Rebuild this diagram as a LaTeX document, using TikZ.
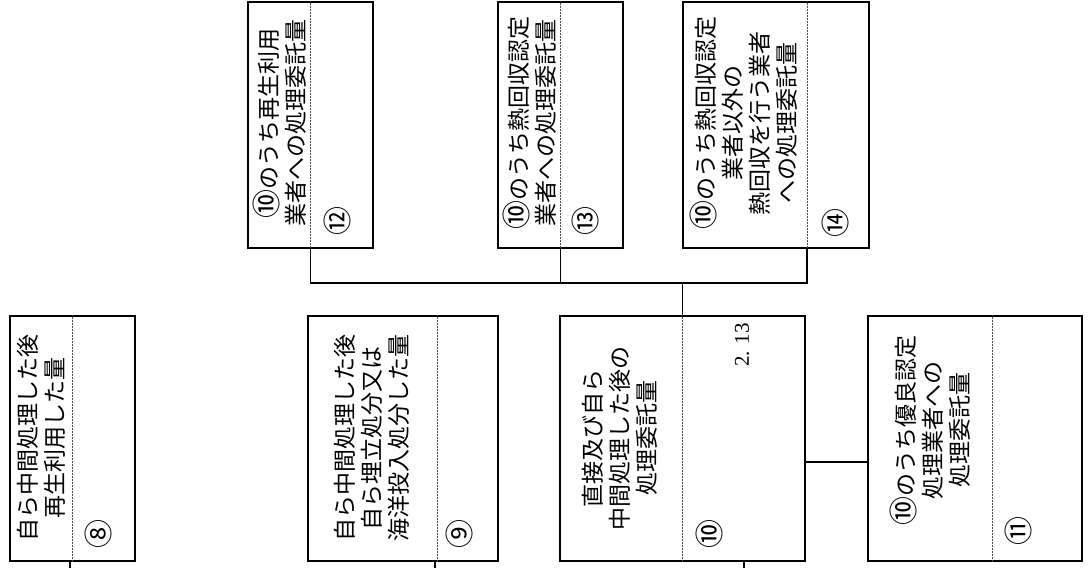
\documentclass[tikz,border=0pt]{standalone}
\usepackage{fontspec}
\newfontfamily\jpfont{Noto Sans CJK JP}
\newfontfamily\numfont{Liberation Serif}
\newcommand{\cten}{{\fontsize{29}{27}\selectfont ⑩}}
\begin{document}
\begin{tikzpicture}[x=1pt,y=-1pt,
  box/.style={draw, line width=1.8pt, inner sep=0pt},
  divider/.style={densely dotted, line width=0.5pt, black!70},
  conn/.style={line width=1.7pt},
  lbl/.style={rotate=90, align=center, inner sep=0pt, font=\jpfont\fontsize{23}{27}\selectfont},
  num/.style={rotate=90, inner sep=0pt, font=\jpfont\fontsize{29}{29}\selectfont},
  val/.style={rotate=90, inner sep=0pt, font=\numfont\fontsize{21}{21}\selectfont}]
\useasboundingbox (0,0) rectangle (1088,568);
\fill[white] (0,0) rectangle (1088,568);

% bottom row boxes
\node[box, minimum width=125pt, minimum height=245pt] (b8)  at (72.5,438.5) {};
\node[box, minimum width=190pt, minimum height=245pt] (b9)  at (403,438.5) {};
\node[box, minimum width=245pt, minimum height=245pt] (b10) at (682.5,438.5) {};
\node[box, minimum width=214pt, minimum height=245pt] (b11) at (975,438.5) {};
% top row boxes
\node[box, minimum width=125pt, minimum height=246pt] (b12) at (310.5,125) {};
\node[box, minimum width=125pt, minimum height=246pt] (b13) at (560.5,125) {};
\node[box, minimum width=186pt, minimum height=246pt] (b14) at (776,125) {};

% divider positions
\coordinate (d8) at (72,0);
\coordinate (d9) at (437,0);
\coordinate (d10) at (682,0);
\coordinate (d11) at (992,0);
\coordinate (d12) at (310,0);
\coordinate (d13) at (560,0);
\coordinate (d14) at (807,0);
\foreach \i in {8,...,14}{
  \draw[divider] (d\i |- b\i.north) -- (d\i |- b\i.south);
}

% labels
\node[lbl] (t8)  at (41,438)  {自ら中間処理した後\\再生利用した量};
\node[lbl] (t9)  at (372,438) {自ら中間処理した後\\自ら埋立処分又は\\海洋投入処分した量};
\node[lbl] (t10) at (620,438) {直接及び自ら\\中間処理した後の\\処理委託量};
\node[lbl] (t11) at (930,430) {\cten のうち優良認定\\処理業者への\\処理委託量};
\node[lbl] (t12) at (280,123) {\cten のうち再生利用\\業者への処理委託量};
\node[lbl] (t13) at (530,123) {\cten のうち熱回収認定\\業者への処理委託量};
\node[lbl] (t14) at (744,123) {\cten のうち熱回収認定\\業者以外の\\熱回収を行う業者\\への処理委託量};

% circled numbers
\node[num] (n8)  at (98,534)  {⑧};
\node[num] (n9)  at (459,534) {⑨};
\node[num] (n10) at (709,534) {⑩};
\node[num] (n11) at (1018,531) {⑪};
\node[num] (n12) at (337,221) {⑫};
\node[num] (n13) at (585,221) {⑬};
\node[num] (n14) at (835,223) {⑭};

% value
\node[val] (v10) at (742,345) {2.\,\,13};

% connectors
\coordinate (e8) at (70,568);
\coordinate (e9) at (435,568);
\coordinate (e10) at (744,568);
\coordinate (bus) at (0,283);
\coordinate (h) at (0,462);
\draw[conn] (b8.south -| e8) -- (e8);
\draw[conn] (b9.south -| e9) -- (e9);
\draw[conn] (b10.south -| e10) -- (e10);
\draw[conn] (b10.north) -- (b10.north |- bus);
\draw[conn] (b12.south) |- (d14 |- bus) -- (d14 |- b14.south);
\draw[conn] (b13.south) -- (b13.south |- bus);
\draw[conn] (b10.east |- h) -- (b11.west |- h);
\end{tikzpicture}
\end{document}
